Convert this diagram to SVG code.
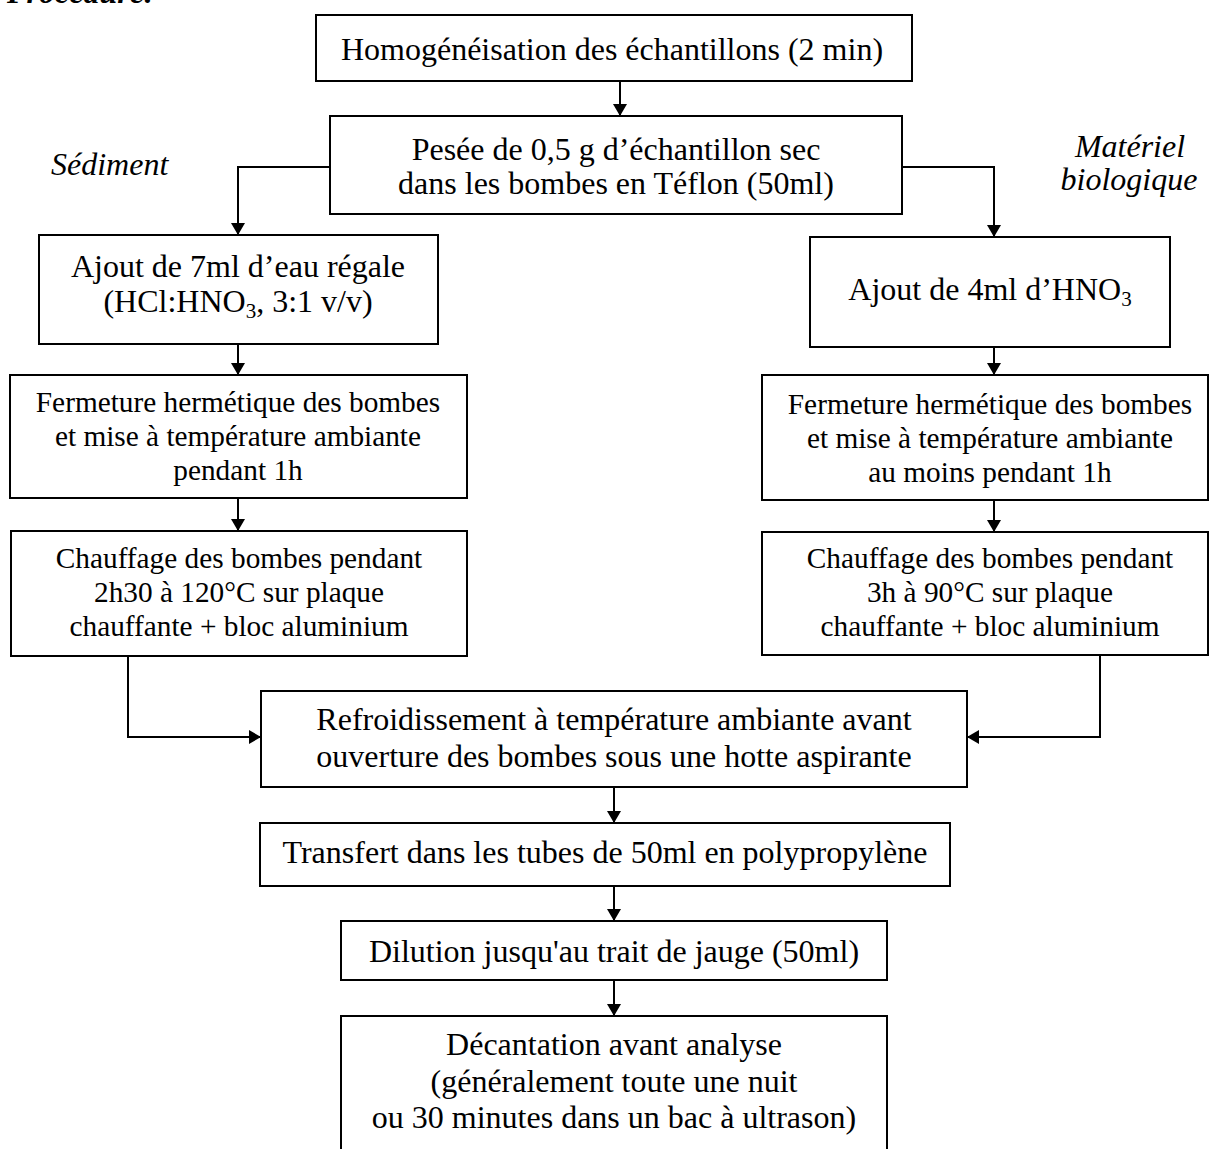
<svg xmlns="http://www.w3.org/2000/svg" width="1210" height="1149" viewBox="0 0 1210 1149">
<style>
rect.box{fill:#fff;stroke:#000;stroke-width:2}
text{font-family:"Liberation Serif","Times New Roman",serif;font-size:32px;fill:#000}
.c{text-anchor:middle}
.it{font-style:italic}
.s{font-size:29.3px}
.conn path{fill:none;stroke:#000;stroke-width:2}
</style>
<defs>
<marker id="ah" viewBox="0 0 12 14" refX="12" refY="7" markerWidth="12" markerHeight="14" markerUnits="userSpaceOnUse" orient="auto">
<path d="M0,0 L12,7 L0,14 Z" fill="#000"/>
</marker>
</defs>
<rect width="1210" height="1149" fill="#fff"/>
<text x="7" y="3" font-weight="bold" class="it">Procédure:</text>
<text x="51" y="175" class="it">Sédiment</text>
<text x="1130" y="157" class="it c">Matériel</text>
<text x="1129" y="190" class="it c">biologique</text>

<g class="conn">
<path d="M620,81 V116" marker-end="url(#ah)"/>
<path d="M330,167 H238 V235" marker-end="url(#ah)"/>
<path d="M902,167 H994 V237" marker-end="url(#ah)"/>
<path d="M238,344 V375" marker-end="url(#ah)"/>
<path d="M994,347 V375" marker-end="url(#ah)"/>
<path d="M238,498 V531" marker-end="url(#ah)"/>
<path d="M994,500 V532" marker-end="url(#ah)"/>
<path d="M128,656 V737 H261" marker-end="url(#ah)"/>
<path d="M1100,655 V737 H967" marker-end="url(#ah)"/>
<path d="M614,787 V823" marker-end="url(#ah)"/>
<path d="M614,886 V921" marker-end="url(#ah)"/>
<path d="M614,980 V1016" marker-end="url(#ah)"/>
</g>

<g id="n1"><rect class="box" x="316" y="15" width="596" height="66"/>
<text class="c" x="612" y="60">Homogénéisation des échantillons (2 min)</text></g>

<g id="n2"><rect class="box" x="330" y="116" width="572" height="98"/>
<text class="c" x="616" y="160">Pesée de 0,5 g d’échantillon sec</text>
<text class="c" x="616" y="194">dans les bombes en Téflon (50ml)</text></g>

<g id="n3"><rect class="box" x="39" y="235" width="399" height="109"/>
<text class="c" x="238" y="277">Ajout de 7ml d’eau régale</text>
<text class="c" x="238" y="312">(HCl:HNO<tspan font-size="21" dy="6">3</tspan><tspan dy="-6">, 3:1 v/v)</tspan></text></g>

<g id="n4"><rect class="box" x="810" y="237" width="360" height="110"/>
<text class="c" x="990" y="300">Ajout de 4ml d’HNO<tspan font-size="21" dy="6">3</tspan></text></g>

<g id="n5"><rect class="box" x="10" y="375" width="457" height="123"/>
<text class="c s" x="238" y="412">Fermeture hermétique des bombes</text>
<text class="c s" x="238" y="446">et mise à température ambiante</text>
<text class="c s" x="238" y="480">pendant 1h</text></g>

<g id="n6"><rect class="box" x="762" y="375" width="446" height="125"/>
<text class="c s" x="990" y="414">Fermeture hermétique des bombes</text>
<text class="c s" x="990" y="448">et mise à température ambiante</text>
<text class="c s" x="990" y="482">au moins pendant 1h</text></g>

<g id="n7"><rect class="box" x="11" y="531" width="456" height="125"/>
<text class="c s" x="239" y="568">Chauffage des bombes pendant</text>
<text class="c s" x="239" y="602">2h30 à 120°C sur plaque</text>
<text class="c s" x="239" y="636">chauffante + bloc aluminium</text></g>

<g id="n8"><rect class="box" x="762" y="532" width="446" height="123"/>
<text class="c s" x="990" y="568">Chauffage des bombes pendant</text>
<text class="c s" x="990" y="602">3h à 90°C sur plaque</text>
<text class="c s" x="990" y="636">chauffante + bloc aluminium</text></g>

<g id="n9"><rect class="box" x="261" y="691" width="706" height="96"/>
<text class="c" x="614" y="730">Refroidissement à température ambiante avant</text>
<text class="c" x="614" y="767">ouverture des bombes sous une hotte aspirante</text></g>

<g id="n10"><rect class="box" x="260" y="823" width="690" height="63"/>
<text class="c" x="605" y="863">Transfert dans les tubes de 50ml en polypropylène</text></g>

<g id="n11"><rect class="box" x="341" y="921" width="546" height="59"/>
<text class="c" x="614" y="962">Dilution jusqu'au trait de jauge (50ml)</text></g>

<g id="n12"><rect class="box" x="341" y="1016" width="546" height="160"/>
<text class="c" x="614" y="1055">Décantation avant analyse</text>
<text class="c" x="614" y="1092">(généralement toute une nuit</text>
<text class="c" x="614" y="1128">ou 30 minutes dans un bac à ultrason)</text></g>
</svg>
